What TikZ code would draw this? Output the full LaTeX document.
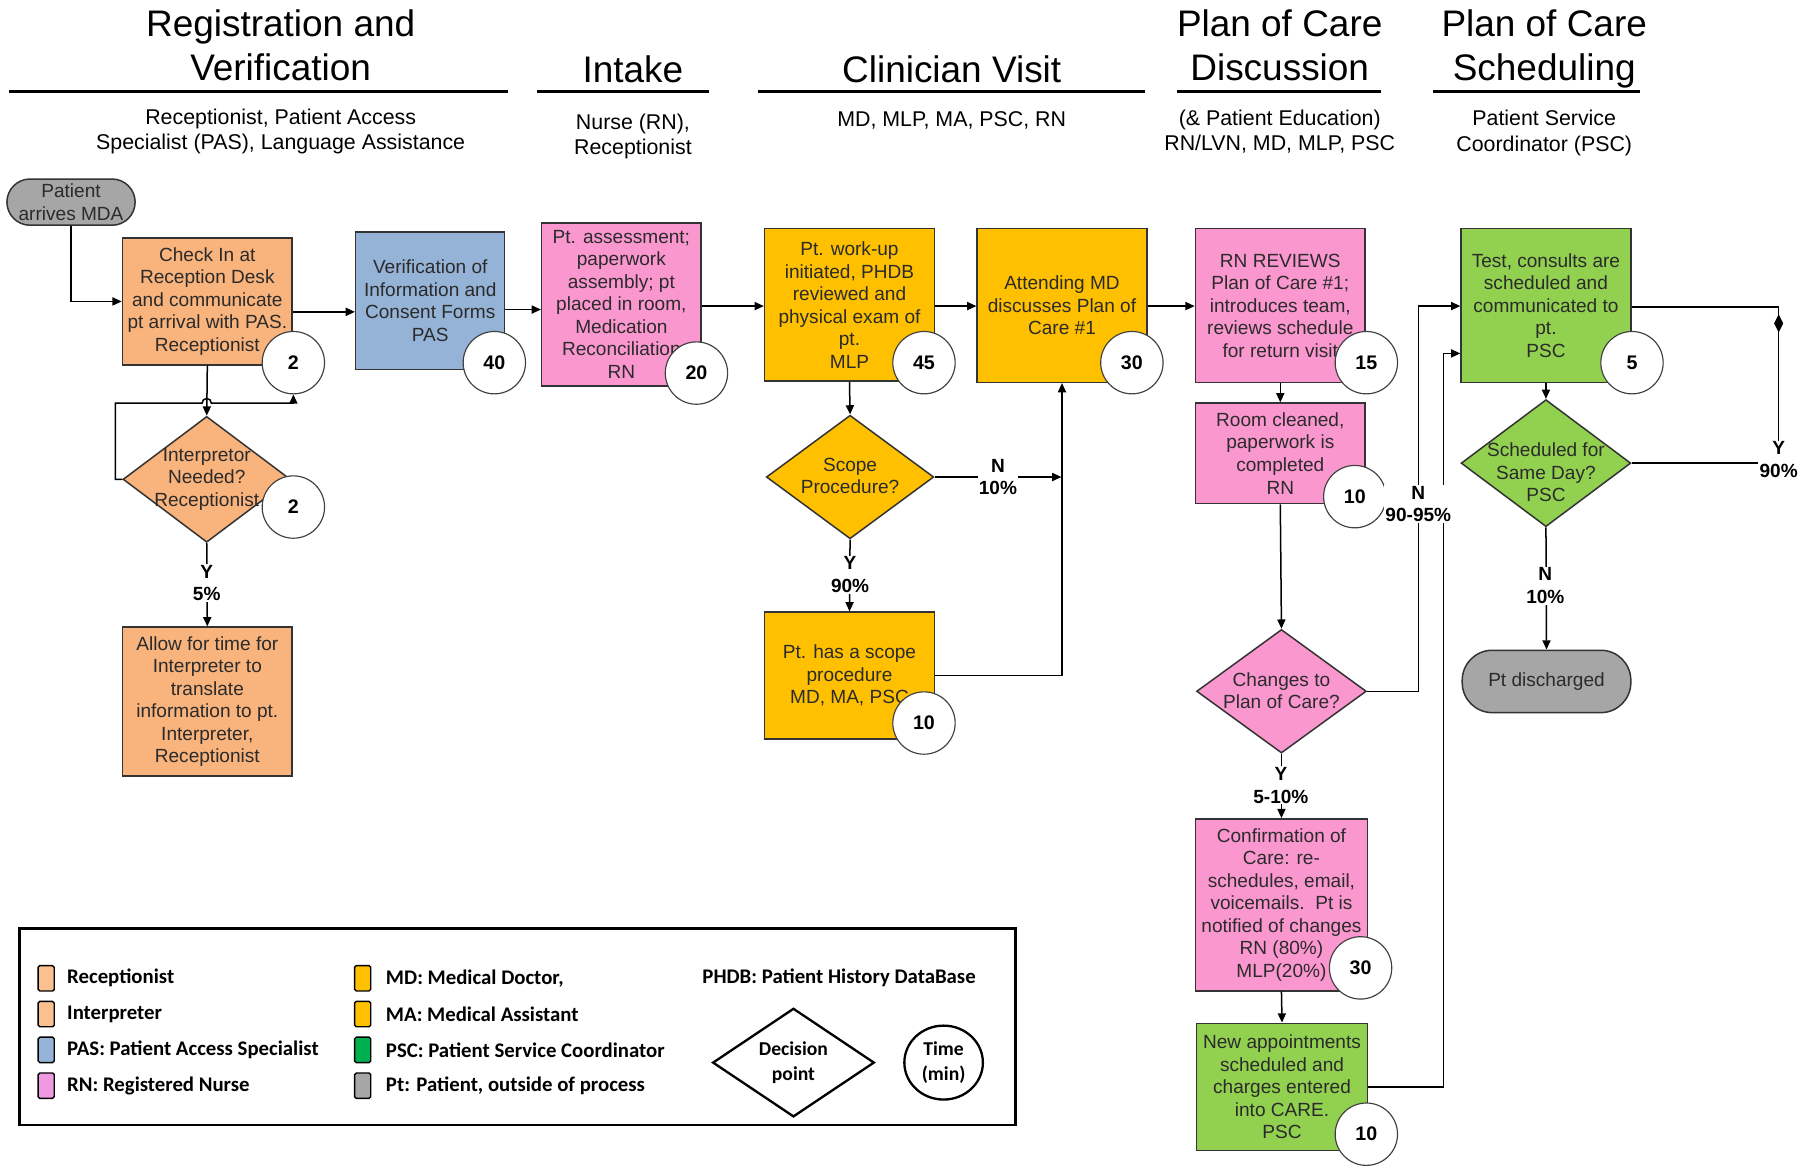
\documentclass[tikz,border=0pt]{standalone}
\usepackage{fontspec}
\setmainfont{Liberation Sans}
\newfontfamily\legfont{Carlito}
\usetikzlibrary{arrows.meta,shapes.geometric}
\definecolor{recep}{HTML}{F9B37C}
\definecolor{pas}{HTML}{95B3D7}
\definecolor{rn}{HTML}{FB97CF}
\definecolor{md}{HTML}{FFC000}
\definecolor{psc}{HTML}{92D050}
\definecolor{ptgray}{HTML}{A6A6A6}
\definecolor{legrec}{HTML}{FAC090}
\definecolor{legpsc}{HTML}{00B050}
\definecolor{legrn}{HTML}{EE99E0}
\definecolor{txt}{HTML}{2B2B2B}
\begin{document}
\begin{tikzpicture}[x=1pt,y=-1pt,
 box/.style={draw=black!80, line width=1.3pt, align=center, text=txt, inner sep=0pt, font=\fontsize{16.5}{19.5}\selectfont},
 dia/.style={diamond, draw=black!80, line width=1.3pt, inner sep=0pt},
 dtext/.style={align=center, text=txt, inner sep=0pt, font=\fontsize{16.5}{19.5}\selectfont},
 tm/.style={circle, draw=black!75, line width=1pt, fill=white, minimum size=54pt, inner sep=0pt, font=\bfseries\fontsize{17}{20}\selectfont},
 stad/.style={draw=black!80, line width=1.3pt, fill=ptgray, align=center, text=txt, inner sep=0pt, font=\fontsize{16.5}{19.5}\selectfont},
 arr/.style={line width=1.3pt, -{Triangle[length=8pt,width=7pt]}},
 conn/.style={line width=1.3pt},
 lbl/.style={fill=white, inner sep=1pt, align=center, font=\bfseries\fontsize{16.5}{19.5}\selectfont},
 hdr/.style={align=center, font=\fontsize{32}{38}\selectfont},
 subh/.style={align=center, font=\fontsize{18.5}{22}\selectfont},
 hrule/.style={line width=3pt},
 leg/.style={anchor=west, font=\legfont\bfseries\fontsize{18}{22}\selectfont, inner sep=0pt},
 sw/.style={draw=black, line width=1.2pt, rounded corners=1.5pt, minimum width=14pt, minimum height=22pt, inner sep=0pt}
]
\useasboundingbox (0,0) rectangle (1568,1009);

% ---------- headers ----------
\node[hdr] (h1) at (243,39) {Registration and\\Verification};
\node[hdr] (h2) at (548,60) {Intake};
\node[hdr] (h3) at (824,60) {Clinician Visit};
\node[hdr] (h4) at (1108,39) {Plan of Care\\Discussion};
\node[hdr] (h5) at (1337,42) {Plan of Care\\Scheduling};
\draw[hrule] (8,79) -- (440,79);
\draw[hrule] (465,79) -- (614,79);
\draw[hrule] (656,79) -- (991,79);
\draw[hrule] (1019,79) -- (1196,79);
\draw[hrule] (1241,79) -- (1420,79);
\node[subh] (s1) at (243,114) {Receptionist, Patient Access\\Specialist (PAS), Language Assistance};
\node[subh] (s2) at (548,118) {Nurse (RN),\\Receptionist};
\node[subh] (s3) at (824,104) {MD, MLP, MA, PSC, RN};
\node[subh] (s4) at (1108,114) {(\& Patient Education)\\RN/LVN, MD, MLP, PSC};
\node[subh] (s5) at (1337,115) {Patient Service\\Coordinator (PSC)};

% ---------- process boxes ----------
\node[stad, rounded corners=20pt, minimum width=111pt, minimum height=40pt] (patient) at (61.5,175) {Patient\\arrives MDA};
\node[box, fill=recep, minimum width=147pt, minimum height=110pt] (checkin) at (179.5,261) {Check In at\\Reception Desk\\and communicate\\pt arrival with PAS.\\Receptionist};
\node[box, fill=pas, minimum width=129pt, minimum height=119pt] (verif) at (372.5,260.5) {Verification of\\Information and\\Consent Forms\\PAS};
\node[box, fill=rn, minimum width=138pt, minimum height=141pt] (assess) at (538,263.5) {Pt. assessment;\\paperwork\\assembly; pt\\placed in room,\\Medication\\Reconciliation\\RN};
\node[box, fill=md, minimum width=147pt, minimum height=132pt] (workup) at (735.5,264) {Pt. work-up\\initiated, PHDB\\reviewed and\\physical exam of\\pt.\\MLP};
\node[box, fill=md, minimum width=147pt, minimum height=133pt] (attend) at (919.5,264.5) {Attending MD\\discusses Plan of\\Care \#1};
\node[box, fill=rn, minimum width=147pt, minimum height=133pt] (rnrev) at (1108.5,264.5) {RN REVIEWS\\Plan of Care \#1;\\introduces team,\\reviews schedule\\for return visit};
\node[box, fill=psc, minimum width=147pt, minimum height=133pt] (test) at (1338.5,264.5) {Test, consults are\\scheduled and\\communicated to\\pt.\\PSC};
\node[box, fill=recep, minimum width=147pt, minimum height=129pt] (allow) at (179.5,607.5) {Allow for time for\\Interpreter to\\translate\\information to pt.\\Interpreter,\\Receptionist};
\node[box, fill=md, minimum width=147pt, minimum height=110pt] (scopebox) at (735.5,585) {Pt. has a scope\\procedure\\MD, MA, PSC};
\node[box, fill=rn, minimum width=147pt, minimum height=87pt] (room) at (1108.5,392.5) {Room cleaned,\\paperwork is\\completed\\RN};
\node[box, fill=rn, minimum width=149pt, minimum height=149pt] (conf) at (1109.5,783.5) {Confirmation of\\Care: re-\\schedules, email,\\voicemails.\ \ Pt is\\notified of changes\\RN (80\%)\\MLP(20\%)};
\node[box, fill=psc, minimum width=148pt, minimum height=110pt] (newapp) at (1110,941) {New appointments\\scheduled and\\charges entered\\into CARE.\\PSC};
\node[stad, rounded corners=26pt, minimum width=146pt, minimum height=54pt] (disch) at (1339,590) {Pt discharged};

% ---------- diamonds ----------
\node[dia, fill=recep, minimum width=145pt, minimum height=109pt] (interp) at (179,415) {};
\node[dtext] (interpT) at (179,415) {Interpretor\\Needed?\\Receptionist};
\node[dia, fill=md, minimum width=145pt, minimum height=107pt] (scope) at (736,413) {};
\node[dtext] (scopeT) at (736,412) {Scope\\Procedure?};
\node[dia, fill=rn, minimum width=147pt, minimum height=107pt] (changes) at (1109.5,598.5) {};
\node[dtext] (changesT) at (1109.5,598) {Changes to\\Plan of Care?};
\node[dia, fill=psc, minimum width=147pt, minimum height=110pt] (sched) at (1338.5,401) {};
\node[dtext] (schedT) at (1338.5,409) {Scheduled for\\Same Day?\\PSC};

% ---------- connectors ----------
\draw[arr] (patient.south) |- (checkin.west);
\draw[arr] (checkin.east |- 0,270) -- (verif.west |- 0,270);
\draw[arr] (verif.east |- 0,268) -- (assess.west |- 0,268);
\draw[arr] (assess.east |- 0,265) -- (workup.west |- 0,265);
\draw[arr] (workup.east |- 0,265) -- (attend.west |- 0,265);
\draw[arr] (attend.east |- 0,265) -- (rnrev.west |- 0,265);
\draw[arr] (rnrev.south) -- (room.north);
\draw[arr] (room.south) -- (changes.north);
\draw[arr] (changes.east) -| (1228,265) -- (test.west |- 0,265);
\draw[arr] (changes.south) -- (conf.north);
\draw[arr] (conf.south) -- (newapp.north);
\draw[arr] (newapp.east) -| (1250,306) -- (test.west |- 0,306);
\draw[arr] (test.south) -- (sched.north);
\draw[arr] (sched.south) -- (disch.north);
\draw[conn] (sched.east) -| (1540,266) -- (test.east |- 0,266);
\node[diamond, fill=black, minimum width=8pt, minimum height=16pt, inner sep=0pt] (ymark) at (1540,280) {};
\draw[arr] (workup.south) -- (scope.north);
\draw[arr] (scope.south) -- (scopebox.north);
\draw[arr] (scope.east) -- (919,413);
\draw[arr] (scopebox.east) -| (attend.south);
\draw[arr] (checkin.south) -- (interp.north);
\draw[arr] (interp.south) -- (allow.north);

% ---------- time circles ----------
\node[tm] (c1) at (254,314) {2};
\node[tm] (c2) at (428,314) {40};
\node[tm] (c3) at (603,323) {20};
\node[tm] (c4) at (800,314) {45};
\node[tm] (c5) at (980,314) {30};
\node[tm] (c6) at (1183,314) {15};
\node[tm] (c7) at (1413,314) {5};
\node[tm] (c8) at (254,439) {2};
\node[tm] (c9) at (800,626) {10};
\node[tm] (c10) at (1173,430) {10};
\node[tm] (c11) at (1178,838) {30};
\node[tm] (c12) at (1183,982) {10};

% interpreter loop with crossing hop
\draw[arr] (interp.west) -- (100,415) -- (100,349) -- (175,349) arc[start angle=180, end angle=0, radius=4pt] -- (254,349) -- (c1.south);

% ---------- branch labels ----------
\node[lbl] (l1) at (179,505) {Y\\5\%};
\node[lbl] (l2) at (736,497.5) {Y\\90\%};
\node[lbl] (l3) at (864,413) {N\\10\%};
\node[lbl] (l4) at (1228,436.5) {N\\90-95\%};
\node[lbl] (l5) at (1109,680) {Y\\5-10\%};
\node[lbl] (l6) at (1338,507) {N\\10\%};
\node[lbl] (l7) at (1540,398) {Y\\90\%};

% ---------- legend ----------
\draw[line width=2.5pt] (17,804) rectangle (879,974);
\node[sw, fill=legrec] (sw1) at (40,847) {};
\node[sw, fill=legrec] (sw2) at (40,878) {};
\node[sw, fill=pas] (sw3) at (40,909) {};
\node[sw, fill=legrn] (sw4) at (40,940) {};
\node[leg] (t1) at (58,847) {Receptionist};
\node[leg] (t2) at (58,878) {Interpreter};
\node[leg] (t3) at (58,909) {PAS: Patient Access Specialist};
\node[leg] (t4) at (58,940) {RN: Registered Nurse};
\node[sw, fill=md] (sw5) at (314,847) {};
\node[sw, fill=md] (sw6) at (314,878) {};
\node[sw, fill=legpsc] (sw7) at (314,909) {};
\node[sw, fill=ptgray] (sw8) at (314,940) {};
\node[leg] (t5) at (334,847) {MD: Medical Doctor,};
\node[leg] (t6) at (334,878) {MA: Medical Assistant};
\node[leg] (t7) at (334,909) {PSC: Patient Service Coordinator};
\node[leg] (t8) at (334,940) {Pt: Patient, outside of process};
\node[leg] (t9) at (608,847) {PHDB: Patient History DataBase};
\node[diamond, draw, line width=2pt, minimum width=140pt, minimum height=94pt, inner sep=0pt] (ldia) at (687,920) {};
\node[align=center, inner sep=0pt, font=\legfont\bfseries\fontsize{17}{21}\selectfont] (ldiaT) at (687,920) {Decision\\point};
\node[ellipse, draw, line width=2pt, minimum width=68pt, minimum height=64pt, inner sep=0pt] (lcirc) at (817,920) {};
\node[align=center, inner sep=0pt, font=\legfont\bfseries\fontsize{17}{21}\selectfont] (lcircT) at (817,920) {Time\\(min)};
\end{tikzpicture}
\end{document}
